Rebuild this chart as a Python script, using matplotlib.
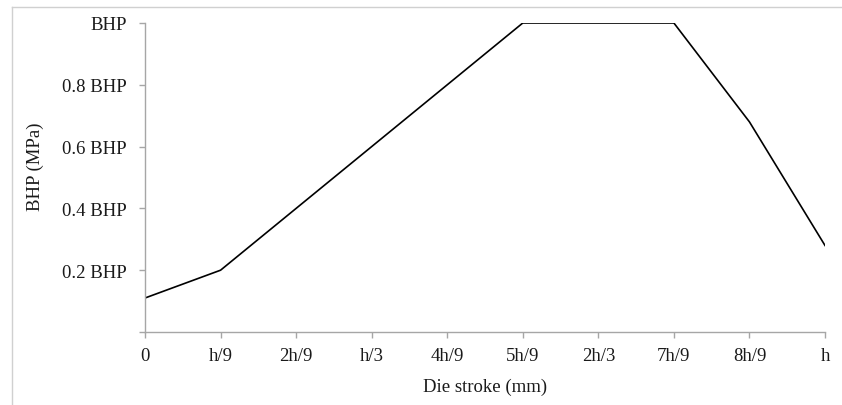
import matplotlib.pyplot as plt
from matplotlib.lines import Line2D

# Pressure profile along the die stroke
stroke_labels = ['0', 'h/9', '2h/9', 'h/3', '4h/9', '5h/9', '2h/3', '7h/9', '8h/9', 'h']
stroke_pos = list(range(len(stroke_labels)))
pressure = [0.11, 0.20, 0.40, 0.60, 0.80, 1.00, 1.00, 1.00, 0.68, 0.28]

y_ticks = [0.0, 0.2, 0.4, 0.6, 0.8, 1.0]
y_tick_labels = ['', '0.2 BHP', '0.4 BHP', '0.6 BHP', '0.8 BHP', 'BHP']

plt.rcParams['font.family'] = ['Liberation Serif', 'DejaVu Serif']

W, H = 842, 406
fig = plt.figure(figsize=(W / 100, H / 100), dpi=100)
ax = fig.add_axes([145 / W, 1 - 333 / H, (825 - 145) / W, (333 - 24) / H])

ax.plot(stroke_pos, pressure, color='black', linewidth=1.2, solid_joinstyle='miter')

ax.set_xlim(0, len(stroke_labels) - 1)
ax.set_ylim(0, 1.0)
ax.set_xticks(stroke_pos)
ax.set_xticklabels(stroke_labels)
ax.set_yticks(y_ticks)
ax.set_yticklabels(y_tick_labels)

axis_grey = '#a6a6a6'
text_col = '#1a1a1a'
for side in ['top', 'right']:
    ax.spines[side].set_visible(False)
for side in ['left', 'bottom']:
    ax.spines[side].set_color(axis_grey)
    ax.spines[side].set_linewidth(1.0)
ax.tick_params(axis='both', direction='out', length=4, width=1.0,
               color=axis_grey, labelsize=13.5, labelcolor=text_col)
ax.tick_params(axis='x', pad=7)
ax.tick_params(axis='y', pad=9)

ax.set_xlabel('Die stroke (mm)', fontsize=13.5, color=text_col, labelpad=10)
ax.set_ylabel('BHP (MPa)', fontsize=13.5, color=text_col)
ax.yaxis.set_label_coords(-0.149, 0.537)

# chart area frame (left and top edges)
frame_kw = dict(color='#d0d0d0', linewidth=1.0, transform=fig.transFigure)
fig.add_artist(Line2D([12 / W, 12 / W], [0, 1 - 8 / H], **frame_kw))
fig.add_artist(Line2D([12 / W, 1], [1 - 8 / H, 1 - 8 / H], **frame_kw))

fig.savefig('out.png', dpi=100)
